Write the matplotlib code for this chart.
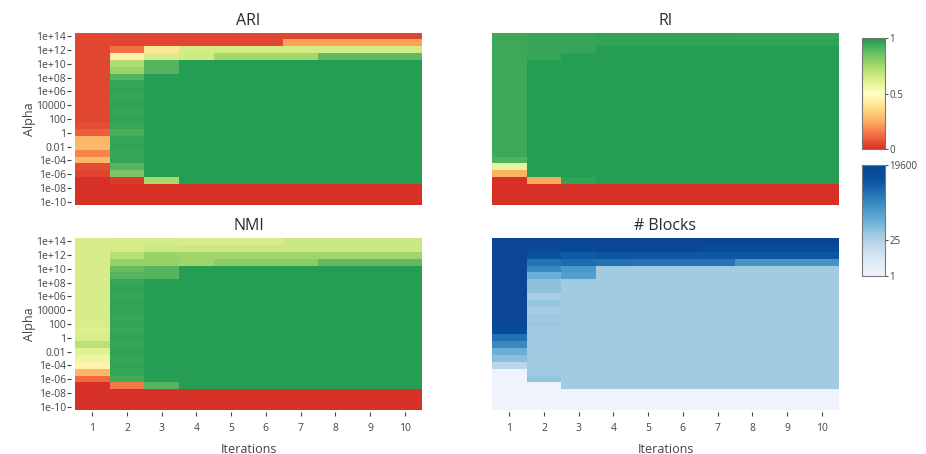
import matplotlib
matplotlib.use("Agg")
import matplotlib.pyplot as plt
import numpy as np
from matplotlib.colors import LinearSegmentedColormap, LogNorm, Normalize

plt.rcParams["font.family"] = ["Open Sans", "DejaVu Sans"]

iterations = [1, 2, 3, 4, 5, 6, 7, 8, 9, 10]
# one row per alpha, top (1e+14) to bottom (1e-10)
alpha_rows = ["1e+14", "1e+13", "1e+12", "1e+11", "1e+10", "1e+09", "1e+08", "1e+07",
              "1e+06", "1e+05", "10000", "1000", "100", "10", "1", "0.1", "0.01",
              "0.001", "1e-04", "1e-05", "1e-06", "1e-07", "1e-08", "1e-09", "1e-10"]
alpha_ticks = ["1e+14", "1e+12", "1e+10", "1e+08", "1e+06", "10000", "100", "1",
               "0.01", "1e-04", "1e-06", "1e-08", "1e-10"]

ari = [
    [0.05, 0.05, 0.05, 0.05, 0.05, 0.05, 0.05, 0.05, 0.05, 0.05],
    [0.05, 0.05, 0.05, 0.05, 0.05, 0.05, 0.23, 0.23, 0.23, 0.23],
    [0.05, 0.13, 0.41, 0.64, 0.64, 0.64, 0.64, 0.64, 0.64, 0.64],
    [0.05, 0.45, 0.63, 0.65, 0.75, 0.75, 0.75, 0.88, 0.88, 0.88],
    [0.05, 0.72, 0.90, 0.98, 0.98, 0.98, 0.98, 0.98, 0.98, 0.98],
    [0.05, 0.77, 0.90, 0.98, 0.98, 0.98, 0.98, 0.98, 0.98, 0.98],
    [0.05, 0.90, 0.98, 0.98, 0.98, 0.98, 0.98, 0.98, 0.98, 0.98],
    [0.05, 0.95, 0.98, 0.98, 0.98, 0.98, 0.98, 0.98, 0.98, 0.98],
    [0.05, 0.96, 0.98, 0.98, 0.98, 0.98, 0.98, 0.98, 0.98, 0.98],
    [0.05, 0.95, 0.98, 0.98, 0.98, 0.98, 0.98, 0.98, 0.98, 0.98],
    [0.05, 0.96, 0.98, 0.98, 0.98, 0.98, 0.98, 0.98, 0.98, 0.98],
    [0.05, 0.95, 0.98, 0.98, 0.98, 0.98, 0.98, 0.98, 0.98, 0.98],
    [0.05, 0.96, 0.98, 0.98, 0.98, 0.98, 0.98, 0.98, 0.98, 0.98],
    [0.06, 0.95, 0.98, 0.98, 0.98, 0.98, 0.98, 0.98, 0.98, 0.98],
    [0.10, 0.92, 0.98, 0.98, 0.98, 0.98, 0.98, 0.98, 0.98, 0.98],
    [0.27, 0.95, 0.98, 0.98, 0.98, 0.98, 0.98, 0.98, 0.98, 0.98],
    [0.28, 0.96, 0.98, 0.98, 0.98, 0.98, 0.98, 0.98, 0.98, 0.98],
    [0.17, 0.95, 0.98, 0.98, 0.98, 0.98, 0.98, 0.98, 0.98, 0.98],
    [0.28, 0.95, 0.98, 0.98, 0.98, 0.98, 0.98, 0.98, 0.98, 0.98],
    [0.06, 0.90, 0.98, 0.98, 0.98, 0.98, 0.98, 0.98, 0.98, 0.98],
    [0.04, 0.83, 0.98, 0.98, 0.98, 0.98, 0.98, 0.98, 0.98, 0.98],
    [0.00, 0.02, 0.74, 0.98, 0.98, 0.98, 0.98, 0.98, 0.98, 0.98],
    [0.00, 0.00, 0.00, 0.00, 0.00, 0.00, 0.00, 0.00, 0.00, 0.00],
    [0.00, 0.00, 0.00, 0.00, 0.00, 0.00, 0.00, 0.00, 0.00, 0.00],
    [0.00, 0.00, 0.00, 0.00, 0.00, 0.00, 0.00, 0.00, 0.00, 0.00],
]

ri = [
    [0.94, 0.95, 0.95, 0.96, 0.96, 0.96, 0.96, 0.95, 0.95, 0.95],
    [0.94, 0.95, 0.95, 0.96, 0.96, 0.96, 0.96, 0.96, 0.96, 0.96],
    [0.94, 0.95, 0.95, 0.98, 0.98, 0.98, 0.98, 0.98, 0.98, 0.98],
    [0.94, 0.95, 0.98, 0.98, 0.98, 0.98, 0.98, 0.98, 0.98, 0.98],
    [0.94, 0.98, 0.98, 0.98, 0.98, 0.98, 0.98, 0.98, 0.98, 0.98],
    [0.94, 0.98, 0.98, 0.98, 0.98, 0.98, 0.98, 0.98, 0.98, 0.98],
    [0.94, 0.98, 0.98, 0.98, 0.98, 0.98, 0.98, 0.98, 0.98, 0.98],
    [0.94, 0.98, 0.98, 0.98, 0.98, 0.98, 0.98, 0.98, 0.98, 0.98],
    [0.94, 0.98, 0.98, 0.98, 0.98, 0.98, 0.98, 0.98, 0.98, 0.98],
    [0.94, 0.98, 0.98, 0.98, 0.98, 0.98, 0.98, 0.98, 0.98, 0.98],
    [0.94, 0.98, 0.98, 0.98, 0.98, 0.98, 0.98, 0.98, 0.98, 0.98],
    [0.94, 0.98, 0.98, 0.98, 0.98, 0.98, 0.98, 0.98, 0.98, 0.98],
    [0.94, 0.98, 0.98, 0.98, 0.98, 0.98, 0.98, 0.98, 0.98, 0.98],
    [0.94, 0.98, 0.98, 0.98, 0.98, 0.98, 0.98, 0.98, 0.98, 0.98],
    [0.94, 0.98, 0.98, 0.98, 0.98, 0.98, 0.98, 0.98, 0.98, 0.98],
    [0.94, 0.98, 0.98, 0.98, 0.98, 0.98, 0.98, 0.98, 0.98, 0.98],
    [0.94, 0.98, 0.98, 0.98, 0.98, 0.98, 0.98, 0.98, 0.98, 0.98],
    [0.94, 0.98, 0.98, 0.98, 0.98, 0.98, 0.98, 0.98, 0.98, 0.98],
    [0.91, 0.98, 0.98, 0.98, 0.98, 0.98, 0.98, 0.98, 0.98, 0.98],
    [0.58, 0.98, 0.98, 0.98, 0.98, 0.98, 0.98, 0.98, 0.98, 0.98],
    [0.26, 0.98, 0.98, 0.98, 0.98, 0.98, 0.98, 0.98, 0.98, 0.98],
    [0.00, 0.24, 0.96, 0.98, 0.98, 0.98, 0.98, 0.98, 0.98, 0.98],
    [0.00, 0.00, 0.00, 0.00, 0.00, 0.00, 0.00, 0.00, 0.00, 0.00],
    [0.00, 0.00, 0.00, 0.00, 0.00, 0.00, 0.00, 0.00, 0.00, 0.00],
    [0.00, 0.00, 0.00, 0.00, 0.00, 0.00, 0.00, 0.00, 0.00, 0.00],
]

nmi = [
    [0.63, 0.64, 0.64, 0.63, 0.63, 0.63, 0.66, 0.66, 0.66, 0.66],
    [0.63, 0.64, 0.66, 0.66, 0.66, 0.66, 0.66, 0.66, 0.66, 0.66],
    [0.63, 0.71, 0.77, 0.76, 0.76, 0.76, 0.76, 0.76, 0.76, 0.76],
    [0.63, 0.78, 0.78, 0.76, 0.80, 0.80, 0.80, 0.88, 0.88, 0.88],
    [0.63, 0.87, 0.90, 0.98, 0.98, 0.98, 0.98, 0.98, 0.98, 0.98],
    [0.63, 0.90, 0.90, 0.98, 0.98, 0.98, 0.98, 0.98, 0.98, 0.98],
    [0.63, 0.95, 0.98, 0.98, 0.98, 0.98, 0.98, 0.98, 0.98, 0.98],
    [0.63, 0.96, 0.98, 0.98, 0.98, 0.98, 0.98, 0.98, 0.98, 0.98],
    [0.63, 0.95, 0.98, 0.98, 0.98, 0.98, 0.98, 0.98, 0.98, 0.98],
    [0.63, 0.96, 0.98, 0.98, 0.98, 0.98, 0.98, 0.98, 0.98, 0.98],
    [0.63, 0.96, 0.98, 0.98, 0.98, 0.98, 0.98, 0.98, 0.98, 0.98],
    [0.63, 0.95, 0.98, 0.98, 0.98, 0.98, 0.98, 0.98, 0.98, 0.98],
    [0.63, 0.96, 0.98, 0.98, 0.98, 0.98, 0.98, 0.98, 0.98, 0.98],
    [0.61, 0.95, 0.98, 0.98, 0.98, 0.98, 0.98, 0.98, 0.98, 0.98],
    [0.63, 0.96, 0.98, 0.98, 0.98, 0.98, 0.98, 0.98, 0.98, 0.98],
    [0.70, 0.95, 0.98, 0.98, 0.98, 0.98, 0.98, 0.98, 0.98, 0.98],
    [0.60, 0.96, 0.98, 0.98, 0.98, 0.98, 0.98, 0.98, 0.98, 0.98],
    [0.56, 0.95, 0.98, 0.98, 0.98, 0.98, 0.98, 0.98, 0.98, 0.98],
    [0.46, 0.96, 0.98, 0.98, 0.98, 0.98, 0.98, 0.98, 0.98, 0.98],
    [0.27, 0.95, 0.98, 0.98, 0.98, 0.98, 0.98, 0.98, 0.98, 0.98],
    [0.12, 0.93, 0.98, 0.98, 0.98, 0.98, 0.98, 0.98, 0.98, 0.98],
    [0.00, 0.15, 0.90, 0.98, 0.98, 0.98, 0.98, 0.98, 0.98, 0.98],
    [0.00, 0.00, 0.00, 0.00, 0.00, 0.00, 0.00, 0.00, 0.00, 0.00],
    [0.00, 0.00, 0.00, 0.00, 0.00, 0.00, 0.00, 0.00, 0.00, 0.00],
    [0.00, 0.00, 0.00, 0.00, 0.00, 0.00, 0.00, 0.00, 0.00, 0.00],
]

blocks = [
    [19600, 19600, 19600, 19600, 19600, 19600, 19600, 19600, 19600, 19600],
    [19600, 12000, 14000, 13000, 13000, 13000, 9800, 9800, 9800, 9800],
    [19600, 5400, 3700, 4500, 4500, 4500, 4500, 4500, 4500, 4500],
    [19600, 1500, 2000, 1650, 1500, 1500, 1500, 460, 460, 460],
    [19600, 680, 380, 35, 35, 35, 35, 35, 35, 35],
    [19600, 140, 280, 35, 35, 35, 35, 35, 35, 35],
    [19600, 58, 35, 35, 35, 35, 35, 35, 35, 35],
    [19600, 58, 35, 35, 35, 35, 35, 35, 35, 35],
    [19600, 32, 35, 35, 35, 35, 35, 35, 35, 35],
    [19600, 50, 35, 35, 35, 35, 35, 35, 35, 35],
    [19600, 32, 35, 35, 35, 35, 35, 35, 35, 35],
    [19600, 40, 35, 35, 35, 35, 35, 35, 35, 35],
    [19600, 45, 35, 35, 35, 35, 35, 35, 35, 35],
    [9800, 35, 35, 35, 35, 35, 35, 35, 35, 35],
    [1650, 40, 35, 35, 35, 35, 35, 35, 35, 35],
    [680, 38, 35, 35, 35, 35, 35, 35, 35, 35],
    [140, 35, 35, 35, 35, 35, 35, 35, 35, 35],
    [63, 40, 35, 35, 35, 35, 35, 35, 35, 35],
    [17, 35, 35, 35, 35, 35, 35, 35, 35, 35],
    [1, 38, 35, 35, 35, 35, 35, 35, 35, 35],
    [1, 50, 35, 35, 35, 35, 35, 35, 35, 35],
    [1, 1, 35, 35, 35, 35, 35, 35, 35, 35],
    [1, 1, 1, 1, 1, 1, 1, 1, 1, 1],
    [1, 1, 1, 1, 1, 1, 1, 1, 1, 1],
    [1, 1, 1, 1, 1, 1, 1, 1, 1, 1],
]

rdylgn = LinearSegmentedColormap.from_list(
    "rdylgn9", ["#d73027", "#f46d43", "#fdae61", "#fee08b", "#ffffbf",
                "#d9ef8b", "#a6d96a", "#66bd63", "#1a9850"])
blues = LinearSegmentedColormap.from_list(
    "blues8", ["#eff3fb", "#deebf7", "#c6dbef", "#9ecae1", "#6baed6",
               "#4292c6", "#2171b5", "#08519c", "#0a4596"])
score_norm = Normalize(0, 1)
block_norm = LogNorm(1, 19600)

TXT = "#444444"
W, H = 926, 454


def px_axes(fig, x0, y0, x1, y1):
    return fig.add_axes([x0 / W, 1 - y1 / H, (x1 - x0) / W, (y1 - y0) / H])


def heat(ax, data, cmap, norm, title, left, bottom):
    im = ax.imshow(np.array(data), cmap=cmap, norm=norm, aspect="auto",
                   interpolation="nearest")
    for s in ax.spines.values():
        s.set_visible(False)
    ax.spines["left"].set_position(("outward", 3))
    ax.spines["bottom"].set_position(("outward", 1.5))
    ax.set_title(title, fontsize=11.5, color="#2a2a2a", pad=6)
    ax.tick_params(colors=TXT, labelsize=7.5, length=3, width=0.8)
    if left:
        ax.set_yticks(np.arange(0, len(alpha_rows), 2))
        ax.set_yticklabels(alpha_ticks)
        ax.tick_params(axis="y", pad=0.5)
        ax.set_ylabel("Alpha", fontsize=9, color=TXT, labelpad=0)
    else:
        ax.set_yticks([])
    if bottom:
        ax.set_xticks(np.arange(len(iterations)))
        ax.set_xticklabels([str(i) for i in iterations])
        ax.tick_params(axis="x", pad=5)
        ax.set_xlabel("Iterations", fontsize=9, color=TXT, labelpad=6)
    else:
        ax.set_xticks([])
    return im


fig = plt.figure(figsize=(W / 100, H / 100), dpi=100)
ax_ari = px_axes(fig, 75, 33, 422, 205)
ax_ri = px_axes(fig, 492, 33, 839, 205)
ax_nmi = px_axes(fig, 75, 238, 422, 410)
ax_blk = px_axes(fig, 492, 238, 839, 410)

im_score = heat(ax_ari, ari, rdylgn, score_norm, "ARI", True, False)
heat(ax_ri, ri, rdylgn, score_norm, "RI", False, False)
heat(ax_nmi, nmi, rdylgn, score_norm, "NMI", True, True)
im_blk = heat(ax_blk, blocks, blues, block_norm, "# Blocks", False, True)

cax1 = px_axes(fig, 862, 38, 885, 149)
cb1 = fig.colorbar(im_score, cax=cax1)
cb1.set_ticks([0, 0.5, 1])
cb1.set_ticklabels(["0", "0.5", "1"])

cax2 = px_axes(fig, 862, 165, 885, 276)
cb2 = fig.colorbar(im_blk, cax=cax2)
cb2.ax.minorticks_off()
cb2.set_ticks([1, 25, 19600])
cb2.set_ticklabels(["1", "25", "19600"])

for cb in (cb1, cb2):
    cb.outline.set_edgecolor("#777777")
    cb.outline.set_linewidth(0.8)
    cb.ax.tick_params(colors=TXT, labelsize=7, length=2, width=0.7, pad=1)

fig.savefig("out.png", dpi=100, facecolor="white")
